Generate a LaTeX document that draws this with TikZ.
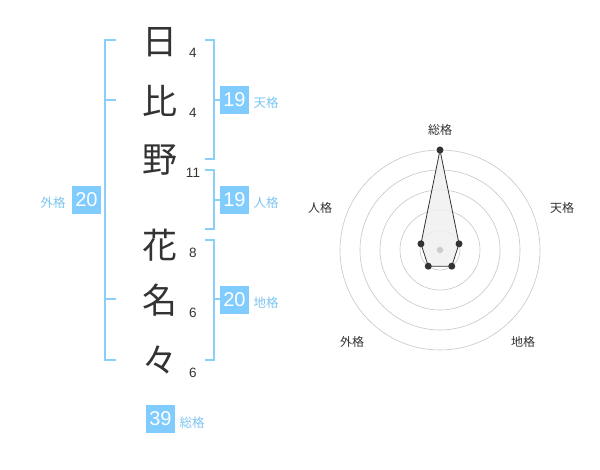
\documentclass[tikz,border=0pt]{standalone}
\usepackage{fontspec}
\usetikzlibrary{calc}
\setmainfont{Liberation Sans}
\newfontfamily\jp{Noto Sans CJK JP}
\definecolor{br}{HTML}{8ACFF8}
\definecolor{bx}{HTML}{80CCFF}
\definecolor{lb}{HTML}{7CC6F2}
\definecolor{dk}{HTML}{333333}
\tikzset{
  brk/.style={draw=br, line width=2pt},
  kanji/.style={font=\jp\fontsize{35}{35}\selectfont, text=dk, inner sep=0pt},
  strokes/.style={font=\fontsize{13.5}{14}\selectfont, text=dk, inner sep=0pt},
  valbox/.style={fill=bx, text=white, font=\fontsize{20}{20}\selectfont, minimum width=29pt, minimum height=28pt, inner sep=0pt},
  lbl/.style={font=\jp\fontsize{12.5}{13}\selectfont, text=lb, inner sep=0pt},
  axlbl/.style={font=\jp\fontsize{12}{13}\selectfont, text=dk, inner sep=0pt},
  ring/.style={draw=black!22, line width=0.6pt},
  dot/.style={circle, fill=dk, inner sep=0pt, minimum size=7pt},
}
\begin{document}
\begin{tikzpicture}[x=1pt,y=-1pt]
\useasboundingbox[fill=white] (0,0) rectangle (600,470);
% kanji
\node[kanji] (k1) at (160,42) {日};
\node[kanji] (k2) at (160,101) {比};
\node[kanji] (k3) at (160,160) {野};
\node[kanji] (k4) at (160,245) {花};
\node[kanji] (k5) at (160,300) {名};
\node[kanji] (k6) at (160,360) {々};
% stroke counts
\node[strokes] (s1) at (193,53) {4};
\node[strokes] (s2) at (193,113) {4};
\node[strokes] (s3) at (193,173) {11};
\node[strokes] (s4) at (193,253) {8};
\node[strokes] (s5) at (193,313) {6};
\node[strokes] (s6) at (193,373) {6};
% outer bracket (gaikaku)
\coordinate (ga) at (116,40);
\coordinate (gb) at (116,360);
\draw[brk] (ga) -- (105,40) -- (105,360) -- (gb);
\coordinate (gm1) at (116,100);
\coordinate (gm2) at (116,299);
\draw[brk] (105,100) -- (gm1);
\draw[brk] (105,299) -- (gm2);
\node[valbox] (gv) at (86.5,200) {20};
\node[lbl] (gl) at (53,203) {外格};
% tenkaku bracket
\coordinate (ta) at (205,40);
\coordinate (tb) at (205,159);
\coordinate (tm) at (220,100);
\draw[brk] (ta) -- (214,40) -- (214,159) -- (tb);
\draw[brk] (214,100) -- (tm);
\node[valbox] (tv) at (234.5,100) {19};
\node[lbl] (tl) at (266,103) {天格};
% jinkaku bracket
\coordinate (ja) at (205,170);
\coordinate (jb) at (205,229);
\coordinate (jm) at (220,200);
\draw[brk] (ja) -- (214,170) -- (214,229) -- (jb);
\draw[brk] (214,200) -- (jm);
\node[valbox] (jv) at (234.5,200) {19};
\node[lbl] (jl) at (266,203) {人格};
% chikaku bracket
\coordinate (ca) at (205,240);
\coordinate (cb) at (205,360);
\coordinate (cm) at (220,299);
\draw[brk] (ca) -- (214,240) -- (214,360) -- (cb);
\draw[brk] (214,299) -- (cm);
\node[valbox] (cv) at (234.5,300) {20};
\node[lbl] (cl) at (266,303) {地格};
% soukaku
\node[valbox] (sv) at (160.5,419) {39};
\node[lbl] (sl) at (192,423) {総格};
% radar chart
\coordinate (O) at (440,250);
\foreach \r in {20,40,60,80,100} \draw[ring] (O) circle (\r);
\coordinate (p1) at (440,150);
\coordinate (p2) at ($(O)+(19.02,-6.18)$);
\coordinate (p3) at ($(O)+(11.76,16.18)$);
\coordinate (p4) at ($(O)+(-11.76,16.18)$);
\coordinate (p5) at ($(O)+(-19.02,-6.18)$);
\fill[black!6, opacity=0.85] (p1) -- (p2) -- (p3) -- (p4) -- (p5) -- cycle;
\node[circle, fill=black!20, inner sep=0pt, minimum size=6.5pt] (cen) at (O) {};
\draw[dk, line width=0.8pt] (p1) -- (p2) -- (p3) -- (p4) -- (p5) -- cycle;
\node[dot] (d1) at (p1) {};
\node[dot] (d2) at (p2) {};
\node[dot] (d3) at (p3) {};
\node[dot] (d4) at (p4) {};
\node[dot] (d5) at (p5) {};
\node[axlbl] (a1) at (440,130) {総格};
\node[axlbl] (a2) at (562,208) {天格};
\node[axlbl] (a3) at (523,342) {地格};
\node[axlbl] (a4) at (352,342) {外格};
\node[axlbl] (a5) at (320,208) {人格};
\end{tikzpicture}
\end{document}
